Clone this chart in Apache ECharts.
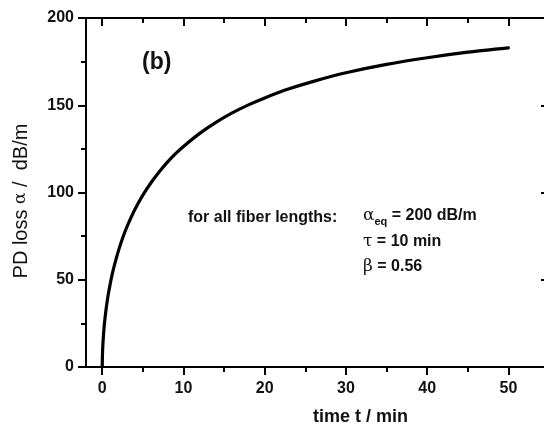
<!DOCTYPE html>
<html>
<head>
<meta charset="utf-8">
<script src="https://cdn.jsdelivr.net/npm/echarts@6/dist/echarts.min.js"></script>
<style>html,body{margin:0;padding:0;background:#fff}#c{width:544px;height:430px}</style>
</head>
<body>
<div id="c"></div>
<script>
// data
var timeMin = [0, 0.01, 0.02, 0.05, 0.1, 0.2, 0.3, 0.4, 0.5, 0.75, 1, 1.25, 1.5, 2, 2.5, 3, 4, 5, 6, 7, 8, 9, 10, 12, 14, 16, 18, 20, 23, 26, 30, 35, 40, 45, 50];
var pdLoss  = [0, 4.1, 6.1, 10.0, 14.6, 21.2, 26.2, 30.4, 34.1, 41.8, 48.1, 53.6, 58.4, 66.7, 73.8, 79.9, 90.1, 98.5, 105.6, 111.8, 117.3, 122.1, 126.4, 133.9, 140.2, 145.6, 150.2, 154.2, 159.4, 163.7, 168.6, 173.4, 177.2, 180.4, 182.9];
var xMajorTicks = [0, 10, 20, 30, 40, 50];
var xMinorTicks = [5, 15, 25, 35, 45];
var yTicks = [0, 50, 100, 150, 200];

var points = timeMin.map(function (t, i) { return [t, pdLoss[i]]; });
var ink = '#111';
var font = 'Liberation Sans, Arial, sans-serif';
var greek = 'DejaVu Serif, Liberation Serif, serif';

function xAx(pos, ticks, len, inside, line, labels) {
  return {
    type: 'value', position: pos, min: -2, max: 55,
    axisLine: { show: line, onZero: false, lineStyle: { color: '#000', width: 2 } },
    axisTick: { show: true, inside: inside, length: len, customValues: ticks, lineStyle: { color: '#000', width: 2 } },
    axisLabel: labels ? { show: true, customValues: ticks, margin: 14, color: ink, fontSize: 16, fontWeight: 'bold', fontFamily: font } : { show: false },
    splitLine: { show: false }
  };
}
function yAx(pos, inside, labels) {
  return {
    type: 'value', position: pos, min: 0, max: 200, interval: 50,
    axisLine: { show: true, onZero: false, lineStyle: { color: '#000', width: 2 } },
    axisTick: { show: true, inside: inside, length: 8, lineStyle: { color: '#000', width: 2 } },
    minorTick: { show: true, splitNumber: 2, length: 5, lineStyle: { color: '#000', width: 2 } },
    axisLabel: labels ? { margin: 12, color: ink, fontSize: 16, fontWeight: 'bold', fontFamily: font, customValues: yTicks } : { show: false },
    splitLine: { show: false }, minorSplitLine: { show: false }
  };
}

var chart = echarts.init(document.getElementById('c'));
chart.setOption({
  animation: false,
  grid: { left: 86, right: -5, top: 18, bottom: 63, containLabel: false, outerBoundsMode: 'none' },
  xAxis: [
    xAx('bottom', xMajorTicks, 8, false, true, true),
    xAx('bottom', xMinorTicks, 5, false, false, false),
    xAx('top', xMajorTicks, 8, true, true, false),
    xAx('top', xMinorTicks, 5, true, false, false)
  ],
  yAxis: [ yAx('left', false, true), yAx('right', true, false) ],
  series: [{
    type: 'line', xAxisIndex: 0, yAxisIndex: 0, data: points,
    smooth: 0.3, showSymbol: false,
    lineStyle: { color: '#000', width: 3.2, cap: 'round' }
  }],
  graphic: [
    { type: 'text', x: 21, y: 201, rotation: Math.PI / 2,
      style: { text: '{r|PD loss }{g|α}{r| /  dB/m}', textAlign: 'center', textVerticalAlign: 'middle',
        rich: { r: { fill: ink, fontFamily: font, fontSize: 20 }, g: { fill: ink, fontFamily: greek, fontSize: 17 } } } },
    { type: 'text', left: 142, top: 51, style: { text: '(b)', fill: ink, font: 'bold 23px ' + font } },
    { type: 'text', left: 313, top: 408, style: { text: 'time t / min', fill: ink, font: 'bold 18px ' + font, textAlign: 'center' } },
    { type: 'text', left: 188, top: 210, style: { text: 'for all fiber lengths:', fill: ink, font: 'bold 16px ' + font } },
    { type: 'text', left: 363, top: 207, style: {
        text: '{g|α}{s|eq}{b| = 200 dB/m}',
        rich: {
          g: { fill: ink, fontFamily: greek, fontSize: 17 },
          s: { fill: ink, fontFamily: font, fontWeight: 'bold', fontSize: 11, padding: [12, 0, 0, 0] },
          b: { fill: ink, fontFamily: font, fontWeight: 'bold', fontSize: 16 }
        } } },
    { type: 'text', left: 363, top: 233, style: {
        text: '{g|τ}{b| = 10 min}',
        rich: { g: { fill: ink, fontFamily: greek, fontSize: 17 }, b: { fill: ink, fontFamily: font, fontWeight: 'bold', fontSize: 16 } } } },
    { type: 'text', left: 363, top: 258, style: {
        text: '{g|β}{b| = 0.56}',
        rich: { g: { fill: ink, fontFamily: greek, fontSize: 17 }, b: { fill: ink, fontFamily: font, fontWeight: 'bold', fontSize: 16 } } } }
  ]
});
</script>
</body>
</html>
